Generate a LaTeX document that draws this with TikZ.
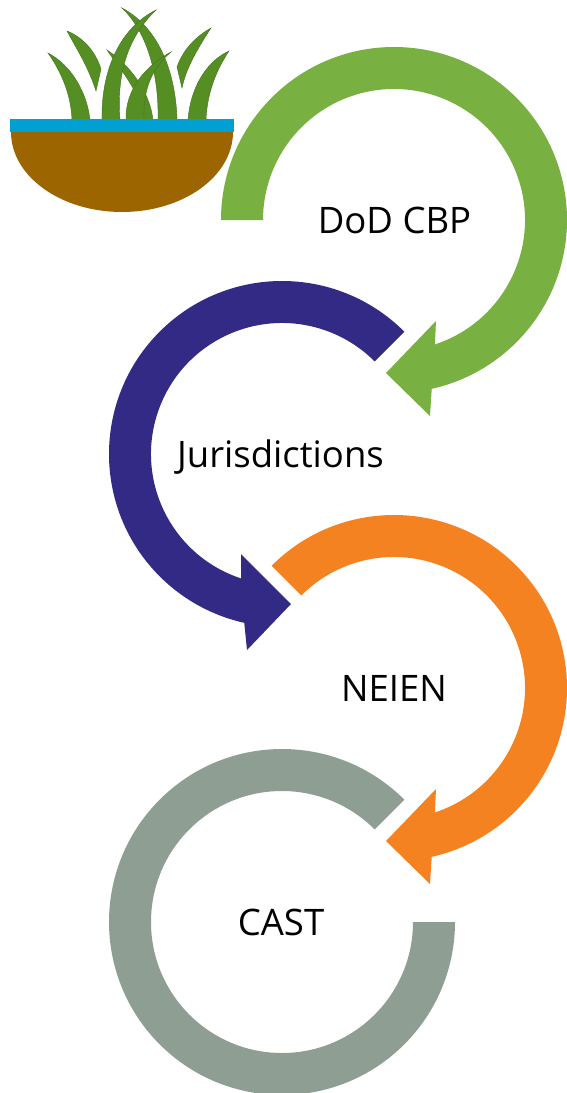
\documentclass[tikz,border=0pt]{standalone}
\usepackage{fontspec}
\setmainfont{Open Sans}
\definecolor{ringgreen}{HTML}{78B042}
\definecolor{ringblue}{HTML}{332A86}
\definecolor{ringorange}{HTML}{F58220}
\definecolor{ringgray}{HTML}{8F9E93}
\definecolor{bladegreen}{HTML}{558F24}
\definecolor{soilbrown}{HTML}{9C6500}
\definecolor{waterblue}{HTML}{00A0D2}
\tikzset{
  blade/.style={fill=bladegreen,draw=bladegreen!80!black,line width=.4pt},
  ringlabel/.style={font=\fontsize{36.5}{44}\selectfont,text=black,inner sep=0pt,anchor=base}
}
\begin{document}
\begin{tikzpicture}[x=1pt,y=1pt]
  \useasboundingbox (0,0) rectangle (566,-1093);
  % plant
  \draw[blade] (48,-53) .. controls (62,-73) and (71,-95) .. (72,-120) -- (90,-120) .. controls (87,-92) and (71,-65) .. cycle;
  \draw[blade] (67,-31) .. controls (76,-48) and (88,-66) .. (96,-91) -- (101,-69) .. controls (95,-50) and (82,-37) .. cycle;
  \draw[blade] (107,-50) .. controls (122,-72) and (141,-92) .. (143,-120) -- (153,-120) .. controls (150,-92) and (130,-65) .. cycle;
  \draw[blade] (122,-8) .. controls (145,-30) and (159,-70) .. (158,-120) -- (177,-120) .. controls (176,-75) and (160,-28) .. cycle;
  \draw[blade] (156,-10) .. controls (120,-28) and (101,-70) .. (102,-120) -- (120,-120) .. controls (116,-70) and (130,-35) .. cycle;
  \draw[blade] (171,-52) .. controls (145,-66) and (125,-90) .. (126,-120) -- (144,-120) .. controls (143,-92) and (150,-70) .. cycle;
  \draw[blade] (211,-28) .. controls (195,-37) and (183,-50) .. (177,-67) -- (182,-88) .. controls (186,-68) and (198,-48) .. cycle;
  \draw[blade] (229,-51) .. controls (205,-62) and (190,-90) .. (188,-120) -- (206,-120) .. controls (207,-95) and (215,-72) .. cycle;
  \fill[soilbrown] (11,-132) arc[start angle=180,end angle=360,x radius=111,y radius=80] -- cycle;
  \fill[waterblue] (10,-119) rectangle (234,-132);
  % rings
  \begin{scope}[shift={(394,-220)}]
    \fill[ringgreen] (180:173) arc[start angle=180,end angle=-77.4,radius=173]
      -- (36,-196) -- (-8,-153) -- (42,-101) -- (-71.8:131)
      arc[start angle=-71.8,end angle=180,radius=131] -- cycle;
  \end{scope}
  \begin{scope}[shift={(282,-454)}]
    \fill[ringblue] (45:173) arc[start angle=45,end angle=257.4,radius=173]
      -- (-35,-196) -- (9,-150) -- (-41,-100) -- (251.8:131)
      arc[start angle=251.8,end angle=45,radius=131] -- cycle;
  \end{scope}
  \begin{scope}[shift={(394,-688)}]
    \fill[ringorange] (135:173) arc[start angle=135,end angle=-77.4,radius=173]
      -- (36,-196) -- (-8,-153) -- (42,-101) -- (-71.8:131)
      arc[start angle=-71.8,end angle=135,radius=131] -- cycle;
  \end{scope}
  \begin{scope}[shift={(282,-922)}]
    \fill[ringgray] (45:173) arc[start angle=45,end angle=360,radius=173]
      -- (0:131) arc[start angle=360,end angle=45,radius=131] -- cycle;
  \end{scope}
  % labels
  \node[ringlabel] (dodcbp) at (394.5,-233) {DoD CBP};
  \node[ringlabel] (jurisdictions) at (280.5,-467) {Jurisdictions};
  \node[ringlabel] (neien) at (394,-701) {NEIEN};
  \node[ringlabel] (cast) at (281,-935) {CAST};
\end{tikzpicture}
\end{document}
